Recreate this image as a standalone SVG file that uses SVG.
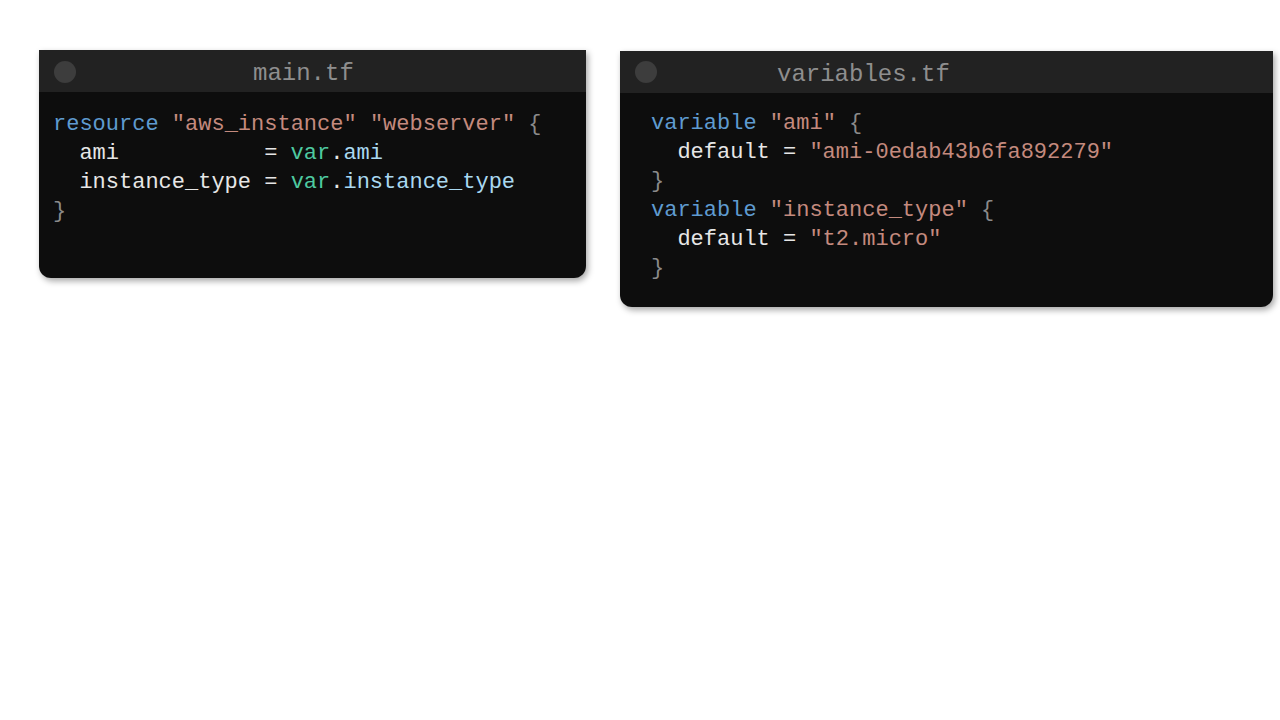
<svg xmlns="http://www.w3.org/2000/svg" width="1280" height="720" viewBox="0 0 1280 720">
  <defs>
    <filter id="shadow" x="-5%" y="-5%" width="112%" height="120%">
      <feDropShadow dx="2" dy="3" stdDeviation="3" flood-color="#000" flood-opacity="0.35"/>
    </filter>
  </defs>
  <style>
    .body { fill: #0b0b0b; }
    .bar { fill: #222222; }
    .dot { fill: #3d3d3d; }
    .title { font-family: "Liberation Mono", "DejaVu Sans Mono", monospace; font-size: 24px; fill: #8e8e8e; }
    .code { font-family: "Liberation Mono", "DejaVu Sans Mono", monospace; font-size: 22px; fill: #e6e6e6; }
    .kw { fill: #5f9bd0; }
    .str { fill: #c48a7e; }
    .var { fill: #4ec9a0; }
    .prop { fill: #a9d8f0; }
    .br { fill: #8a8a8a; }
  </style>
  <rect x="0" y="0" width="1280" height="720" fill="#ffffff"/>

  <g id="main-tf">
    <path class="body" filter="url(#shadow)" d="M39,50 H586 V266 A12,12 0 0 1 574,278 H51 A12,12 0 0 1 39,266 Z"/>
    <rect class="bar" x="39" y="50" width="547" height="42"/>
    <circle class="dot" cx="65" cy="72" r="11"/>
    <text class="title" x="253" y="80">main.tf</text>
    <text class="code" x="53" y="130"><tspan class="kw">resource</tspan> <tspan class="str">"aws_instance"</tspan> <tspan class="str">"webserver"</tspan> <tspan class="br">{</tspan></text>
    <text class="code" x="79.4" y="159">ami</text>
    <text class="code" x="264.2" y="159">= <tspan class="var">var</tspan>.<tspan class="prop">ami</tspan></text>
    <text class="code" x="79.4" y="188">instance_type = <tspan class="var">var</tspan>.<tspan class="prop">instance_type</tspan></text>
    <text class="code br" x="53" y="217">}</text>
  </g>

  <g id="variables-tf">
    <path class="body" filter="url(#shadow)" d="M620,51 H1273 V295 A12,12 0 0 1 1261,307 H632 A12,12 0 0 1 620,295 Z"/>
    <rect class="bar" x="620" y="51" width="653" height="42"/>
    <circle class="dot" cx="646" cy="72" r="11"/>
    <text class="title" x="777" y="81">variables.tf</text>
    <text class="code" x="651" y="129"><tspan class="kw">variable</tspan> <tspan class="str">"ami"</tspan> <tspan class="br">{</tspan></text>
    <text class="code" x="677.4" y="158">default = <tspan class="str">"ami-0edab43b6fa892279"</tspan></text>
    <text class="code br" x="651" y="187">}</text>
    <text class="code" x="651" y="216"><tspan class="kw">variable</tspan> <tspan class="str">"instance_type"</tspan> <tspan class="br">{</tspan></text>
    <text class="code" x="677.4" y="245">default = <tspan class="str">"t2.micro"</tspan></text>
    <text class="code br" x="651" y="274">}</text>
  </g>

  <g id="connectors"></g>
</svg>
